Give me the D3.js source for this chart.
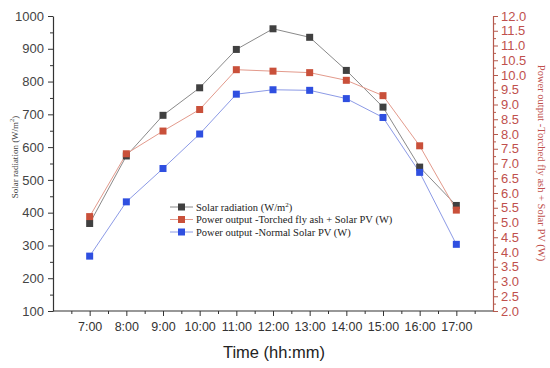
<!DOCTYPE html>
<html>
<head>
<meta charset="utf-8">
<script src="https://cdn.jsdelivr.net/npm/d3@7"></script>
<style>
  body { margin: 0; background: #fff; }
  svg { display: block; }
</style>
</head>
<body>
<div id="chart"></div>
<script>
// Data
const hours = [7, 8, 9, 10, 11, 12, 13, 14, 15, 16, 17];
const hourLabels = ["7:00", "8:00", "9:00", "10:00", "11:00", "12:00", "13:00", "14:00", "15:00", "16:00", "17:00"];
const solarRadiation = [367, 573, 697, 781, 898, 961, 935, 834, 722, 539, 422];   // W/m2 (left axis)
const powerFlyAsh = [5.2, 7.33, 8.1, 8.83, 10.18, 10.13, 10.08, 9.82, 9.3, 7.6, 5.42];   // W (right axis)
const powerNormal = [3.86, 5.7, 6.83, 8.0, 9.35, 9.5, 9.48, 9.2, 8.56, 6.7, 4.26];      // W (right axis)

const width = 550, height = 368;
const margin = { left: 53, right: 57, top: 16, bottom: 57 };

const svg = d3.select("#chart")
  .append("svg")
  .attr("width", width)
  .attr("height", height);

// Scales
const x = d3.scaleLinear().domain([6, 18]).range([margin.left, width - margin.right]);
const yLeft = d3.scaleLinear().domain([100, 1000]).range([height - margin.bottom, margin.top]);
const yRight = d3.scaleLinear().domain([2, 12]).range([height - margin.bottom, margin.top]);

const axisColor = "#333";
const rightColor = "#b5594d";

// Left axis: major + minor ticks
const leftMinor = svg.append("g")
  .attr("transform", `translate(${margin.left},0)`)
  .call(d3.axisLeft(yLeft).tickValues(d3.range(150, 1000, 100)).tickSize(3).tickFormat(""));
leftMinor.select(".domain").remove();
leftMinor.selectAll("line").attr("stroke", axisColor);

const leftAxis = svg.append("g")
  .attr("transform", `translate(${margin.left},0)`)
  .call(d3.axisLeft(yLeft).tickValues(d3.range(100, 1001, 100)).tickSize(5).tickSizeOuter(0)
    .tickPadding(4).tickFormat(d3.format("d")));
leftAxis.select(".domain").attr("stroke", axisColor).attr("stroke-width", 1.2);
leftAxis.selectAll("line").attr("stroke", axisColor);
leftAxis.selectAll("text")
  .attr("fill", "#444")
  .style("font-family", "'Liberation Sans', Arial, sans-serif")
  .style("font-size", "13px");

// Right axis
const rightMinor = svg.append("g")
  .attr("transform", `translate(${width - margin.right},0)`)
  .call(d3.axisRight(yRight).tickValues(d3.range(2.25, 12, 0.5)).tickSize(3).tickFormat(""));
rightMinor.select(".domain").remove();
rightMinor.selectAll("line").attr("stroke", rightColor);

const rightAxis = svg.append("g")
  .attr("transform", `translate(${width - margin.right},0)`)
  .call(d3.axisRight(yRight).tickValues(d3.range(2, 12.01, 0.5)).tickSize(5).tickSizeOuter(0)
    .tickPadding(3).tickFormat(d3.format(".1f")));
rightAxis.select(".domain").attr("stroke", rightColor).attr("stroke-width", 1.2);
rightAxis.selectAll("line").attr("stroke", rightColor);
rightAxis.selectAll("text")
  .attr("fill", "#c0504d")
  .style("font-family", "'Liberation Sans', Arial, sans-serif")
  .style("font-size", "13px");

// Bottom axis
const bottomY = height - margin.bottom;
const xMinor = svg.append("g")
  .attr("transform", `translate(0,${bottomY})`)
  .call(d3.axisBottom(x).tickValues(d3.range(6.5, 18, 1)).tickSize(3).tickFormat(""));
xMinor.select(".domain").remove();
xMinor.selectAll("line").attr("stroke", axisColor);

const xAxis = svg.append("g")
  .attr("transform", `translate(0,${bottomY})`)
  .call(d3.axisBottom(x).tickValues(hours).tickSize(5).tickSizeOuter(0).tickPadding(6)
    .tickFormat((d, i) => hourLabels[i]));
xAxis.select(".domain").attr("stroke", axisColor).attr("stroke-width", 1.2)
  .attr("d", `M${margin.left},0H${width - margin.right}`);
xAxis.selectAll("line").attr("stroke", axisColor);
xAxis.selectAll("text")
  .attr("fill", "#333")
  .style("font-family", "'Liberation Sans', Arial, sans-serif")
  .style("font-size", "12.5px");

// Axis titles
svg.append("text")
  .attr("x", 274)
  .attr("y", 358)
  .attr("text-anchor", "middle")
  .style("font-family", "'Liberation Sans', Arial, sans-serif")
  .style("font-size", "16.5px")
  .attr("fill", "#222")
  .text("Time (hh:mm)");

const leftTitle = svg.append("text")
  .attr("transform", "translate(18,157) rotate(-90)")
  .attr("text-anchor", "middle")
  .style("font-family", "'Liberation Serif', 'Times New Roman', serif")
  .style("font-size", "9px")
  .attr("fill", "#444");
leftTitle.append("tspan").text("Solar radiation (W/m");
leftTitle.append("tspan").attr("dy", -4).style("font-size", "6.5px").text("2");
leftTitle.append("tspan").attr("dy", 4).text(")");

svg.append("text")
  .attr("transform", "translate(538,163) rotate(90)")
  .attr("text-anchor", "middle")
  .style("font-family", "'Liberation Serif', 'Times New Roman', serif")
  .style("font-size", "10.5px")
  .attr("fill", "#c0504d")
  .text("Power output -Torched fly ash + Solar PV (W)");

// Series
const series = [
  { name: "Solar radiation", values: solarRadiation, y: yLeft, line: "#8a8a8a", fill: "#404040" },
  { name: "Torched", values: powerFlyAsh, y: yRight, line: "#e39a8c", fill: "#c9503a" },
  { name: "Normal", values: powerNormal, y: yRight, line: "#8c9ae6", fill: "#2f4fe0" }
];

const ms = 7;
series.forEach(s => {
  const line = d3.line()
    .x((d, i) => x(hours[i]))
    .y(d => s.y(d));
  svg.append("path")
    .datum(s.values)
    .attr("fill", "none")
    .attr("stroke", s.line)
    .attr("stroke-width", 1)
    .attr("d", line);
});
series.forEach(s => {
  svg.append("g")
    .selectAll("rect")
    .data(s.values)
    .enter()
    .append("rect")
    .attr("x", (d, i) => x(hours[i]) - ms / 2)
    .attr("y", d => s.y(d) - ms / 2)
    .attr("width", ms)
    .attr("height", ms)
    .attr("fill", s.fill);
});

// Legend
const legendItems = [
  { label: "Solar radiation (W/m", sup: "2", tail: ")", line: "#8a8a8a", fill: "#404040" },
  { label: "Power output -Torched fly ash + Solar PV (W)", line: "#e39a8c", fill: "#c9503a" },
  { label: "Power output -Normal Solar PV (W)", line: "#8c9ae6", fill: "#2f4fe0" }
];
const legend = svg.append("g").attr("transform", "translate(170,207)");
legendItems.forEach((item, i) => {
  const g = legend.append("g").attr("transform", `translate(0,${i * 12.5})`);
  g.append("line").attr("x1", 0).attr("x2", 23).attr("y1", 0).attr("y2", 0)
    .attr("stroke", item.line).attr("stroke-width", 1);
  g.append("rect").attr("x", 8).attr("y", -3.5).attr("width", 7).attr("height", 7).attr("fill", item.fill);
  const t = g.append("text")
    .attr("x", 26)
    .attr("y", 3.5)
    .style("font-family", "'Liberation Serif', 'Times New Roman', serif")
    .style("font-size", "10.5px")
    .attr("fill", "#222");
  t.append("tspan").text(item.label);
  if (item.sup) {
    t.append("tspan").attr("dy", -4).style("font-size", "7px").text(item.sup);
    t.append("tspan").attr("dy", 4).text(item.tail);
  }
});
</script>
</body>
</html>
